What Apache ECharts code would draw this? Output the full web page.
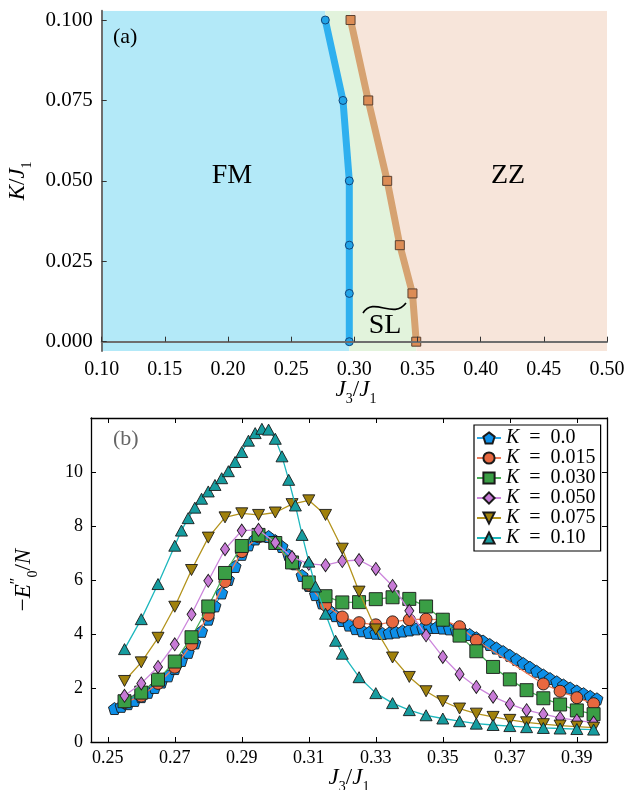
<!DOCTYPE html>
<html><head><meta charset="utf-8">
<script src="https://cdn.jsdelivr.net/npm/echarts@6/dist/echarts.min.js"></script>
<style>html,body{margin:0;padding:0;background:#fff}#c{width:634px;height:790px}</style>
</head><body><div id="c"></div>
<script>
// ---------- Panel (a): phase diagram ----------
const K_pts = [0.000, 0.015, 0.030, 0.050, 0.075, 0.100];
const FM_SL_J3 = [0.296, 0.296, 0.296, 0.296, 0.291, 0.277];
const SL_ZZ_J3 = [0.349, 0.346, 0.336, 0.326, 0.311, 0.297];
const topXTicks = [0.10, 0.15, 0.20, 0.25, 0.30, 0.35, 0.40, 0.45, 0.50];
const topYTicks = [0.000, 0.025, 0.050, 0.075, 0.100];

// ---------- Panel (b): -E0''/N curves ----------
const botXTicks = [0.25, 0.27, 0.29, 0.31, 0.33, 0.35, 0.37, 0.39];
const botYTicks = [0, 2, 4, 6, 8, 10];
const seriesNames = ['K = 0.0', 'K = 0.015', 'K = 0.030', 'K = 0.050', 'K = 0.075', 'K = 0.10'];

const J3_K000 = [0.252,0.254,0.256,0.258,0.260,0.262,0.264,0.266,0.268,0.270,0.272,0.274,0.276,0.278,0.280,0.282,0.284,0.286,0.288,0.290,0.292,0.294,0.296,0.298,0.300,0.302,0.304,0.306,0.308,0.310,0.312,0.314,0.316,0.318,0.320,0.322,0.324,0.326,0.328,0.330,0.332,0.334,0.336,0.338,0.340,0.342,0.344,0.346,0.348,0.350,0.352,0.354,0.356,0.358,0.360,0.362,0.364,0.366,0.368,0.370,0.372,0.374,0.376,0.378,0.380,0.382,0.384,0.386,0.388,0.390,0.392,0.394,0.396];
const E_K000 = [1.24,1.32,1.42,1.54,1.68,1.84,2.02,2.22,2.45,2.72,3.02,3.32,3.67,4.10,4.55,5.04,5.52,6.02,6.50,6.95,7.30,7.52,7.63,7.61,7.46,7.24,6.93,6.60,6.17,5.80,5.46,5.15,4.89,4.68,4.50,4.33,4.20,4.12,4.06,4.03,4.02,4.04,4.07,4.11,4.15,4.19,4.22,4.24,4.24,4.22,4.19,4.14,4.07,3.98,3.86,3.74,3.61,3.48,3.35,3.21,3.06,2.91,2.77,2.62,2.48,2.35,2.23,2.11,2.00,1.89,1.79,1.69,1.60];

const J3_K015 = [0.255,0.260,0.265,0.270,0.275,0.280,0.285,0.290,0.295,0.300,0.305,0.310,0.315,0.320,0.325,0.330,0.335,0.340,0.345,0.350,0.355,0.360,0.380,0.385,0.390,0.395];
const E_K015 = [1.46,1.70,2.17,2.77,3.61,4.70,5.94,7.05,7.60,7.35,6.62,5.81,5.07,4.63,4.42,4.34,4.45,4.53,4.55,4.52,4.27,3.77,2.15,1.88,1.64,1.42];

const J3_K030 = [0.255,0.260,0.265,0.270,0.275,0.280,0.285,0.290,0.295,0.300,0.305,0.310,0.315,0.320,0.325,0.330,0.335,0.340,0.345,0.350,0.355,0.360,0.365,0.370,0.375,0.380,0.385,0.390,0.395];
const E_K030 = [1.51,1.83,2.31,2.98,3.88,5.02,6.26,7.26,7.67,7.37,6.65,5.91,5.40,5.17,5.18,5.29,5.36,5.30,5.02,4.53,3.94,3.36,2.78,2.32,1.92,1.62,1.39,1.17,1.03];

const J3_K050 = [0.255,0.260,0.265,0.270,0.275,0.280,0.285,0.290,0.295,0.300,0.305,0.310,0.315,0.320,0.325,0.330,0.335,0.340,0.345,0.350,0.355,0.360,0.365,0.370,0.375,0.380,0.385,0.390,0.395];
const E_K050 = [1.71,2.17,2.78,3.62,4.73,5.97,7.14,7.83,7.86,7.38,6.85,6.60,6.55,6.70,6.74,6.41,5.78,4.86,3.95,3.15,2.51,2.04,1.68,1.40,1.18,1.03,0.89,0.80,0.72];

const J3_K075 = [0.255,0.260,0.265,0.270,0.275,0.280,0.285,0.290,0.295,0.300,0.305,0.310,0.315,0.320,0.325,0.330,0.335,0.340,0.345,0.350,0.355,0.360,0.365,0.370,0.375,0.380,0.385,0.390,0.395];
const E_K075 = [2.26,2.95,3.86,5.01,6.37,7.57,8.32,8.47,8.41,8.50,8.81,8.95,8.41,7.16,5.57,4.17,3.13,2.41,1.88,1.51,1.24,1.05,0.93,0.82,0.73,0.66,0.61,0.57,0.53];

const J3_K100 = [0.255,0.260,0.265,0.270,0.272,0.274,0.276,0.278,0.280,0.282,0.284,0.286,0.288,0.290,0.292,0.294,0.296,0.298,0.300,0.302,0.304,0.306,0.308,0.310,0.312,0.315,0.318,0.320,0.325,0.330,0.335,0.340,0.345,0.350,0.355,0.360,0.365,0.370,0.375,0.380,0.385,0.390,0.395];
const E_K100 = [3.44,4.55,5.85,7.27,7.83,8.29,8.68,9.01,9.28,9.52,9.77,10.03,10.37,10.74,11.16,11.44,11.60,11.57,11.23,10.58,9.71,8.76,7.67,6.68,5.76,4.75,3.75,3.27,2.40,1.81,1.44,1.18,0.99,0.87,0.77,0.68,0.63,0.59,0.55,0.52,0.50,0.48,0.46];

const zipXY = (xs, ys) => xs.map((x, i) => [x, ys[i]]);

// ---------- styles ----------
const FONT = '"Liberation Serif", "DejaVu Serif", serif';
const REGION_COLORS = ['#b3e9f8', '#e2f3dc', '#f7e5da'];
const PENTAGON = 'path://M50,0 L97.55,34.55 L79.39,90.45 L20.61,90.45 L2.45,34.55 Z';
const TRI_DOWN = 'path://M0,0 L100,0 L50,86.6 Z';
const TRI_UP = 'path://M50,0 L100,86.6 L0,86.6 Z';
const lineColors = ['#2aa8e6', '#ee7a58', '#47ad55', '#cc86dc', '#b3931c', '#1db7bd'];
const fillColors = ['#0d8fe8', '#e8683f', '#3a9e45', '#c77ad6', '#a0810c', '#169c9f'];
const symbols = [PENTAGON, 'circle', 'rect', 'diamond', TRI_DOWN, TRI_UP];
const symSizes = [[12,12], 12, 13, [9,13], [12,11], [12,11]];
const dataSets = [zipXY(J3_K000,E_K000), zipXY(J3_K015,E_K015), zipXY(J3_K030,E_K030), zipXY(J3_K050,E_K050), zipXY(J3_K075,E_K075), zipXY(J3_K100,E_K100)];

function regionItem(params, api) {
  const cs = params.coordSys;
  const idx = params.dataIndex;
  const bottom = cs.y + cs.height, top = cs.y, left = cs.x, right = cs.x + cs.width;
  const b1 = K_pts.map((k, i) => api.coord([FM_SL_J3[i], k]));
  const b2 = K_pts.map((k, i) => api.coord([SL_ZZ_J3[i], k]));
  const ext = b => [[b[0][0], bottom]].concat(b, [[b[b.length - 1][0], top]]);
  const e1 = ext(b1), e2 = ext(b2);
  let pts;
  if (idx === 0) pts = [[left, bottom]].concat(e1, [[left, top]]);
  else if (idx === 1) pts = e1.concat(e2.slice().reverse());
  else pts = e2.concat([[right, top], [right, bottom]]);
  return { type: 'polygon', shape: { points: pts }, style: { fill: REGION_COLORS[idx] } };
}

const subRich = {
  i: { fontFamily: FONT, fontStyle: 'italic', fontSize: 23, color: '#000', lineHeight: 26, verticalAlign: 'bottom' },
  n: { fontFamily: FONT, fontSize: 23, color: '#000', lineHeight: 26, verticalAlign: 'bottom' },
  s: { fontFamily: FONT, fontSize: 14, color: '#000', lineHeight: 26, verticalAlign: 'bottom', padding: [0, 0, -5, 0] },
  p: { fontFamily: FONT, fontSize: 16, color: '#000', lineHeight: 26, verticalAlign: 'top' }
};
const J3_TITLE = '{i|J}{s|3}{n|/}{i|J}{s|1}';

const series = [
  { type: 'custom', xAxisIndex: 0, yAxisIndex: 0, renderItem: regionItem, silent: true, z: 1,
    data: [[0.2, 0.05], [0.32, 0.05], [0.4, 0.05]], clip: true },
  { type: 'line', xAxisIndex: 0, yAxisIndex: 0, z: 3, data: zipXY(FM_SL_J3, K_pts),
    lineStyle: { color: '#2fb0ef', width: 7 }, symbol: 'circle', symbolSize: 8,
    itemStyle: { color: '#22a4e8', borderColor: '#10457a', borderWidth: 1 } },
  { type: 'line', xAxisIndex: 0, yAxisIndex: 0, z: 3, data: zipXY(SL_ZZ_J3, K_pts),
    lineStyle: { color: '#d6a271', width: 7 }, symbol: 'rect', symbolSize: 9,
    itemStyle: { color: '#dc8c55', borderColor: '#5a4030', borderWidth: 1 } }
];
dataSets.forEach((d, i) => {
  series.push({
    name: seriesNames[i], type: 'line', xAxisIndex: 1, yAxisIndex: 1, z: 3 + i,
    data: d, symbol: symbols[i], symbolSize: symSizes[i],
    lineStyle: { color: lineColors[i], width: 1.3 },
    itemStyle: { color: fillColors[i], borderColor: '#1a1a1a', borderWidth: 0.9 }
  });
});

const option = {
  animation: false,
  backgroundColor: '#fff',
  grid: [
    { left: 101.7, right: 27, top: 10.7, bottom: 439, containLabel: false, outerBoundsMode: 'none' },
    { left: 91, right: 27, top: 418, bottom: 48, containLabel: false, outerBoundsMode: 'none' }
  ],
  xAxis: [
    { type: 'value', gridIndex: 0, min: 0.1, max: 0.5, interval: 0.05, z: 10,
      axisLine: { lineStyle: { color: '#6e6e6e', width: 2 } },
      axisTick: { inside: true, length: 5, lineStyle: { color: '#333', width: 1 }, customValues: topXTicks },
      axisLabel: { customValues: topXTicks, formatter: v => v.toFixed(2), fontFamily: FONT, fontSize: 20, color: '#000', margin: 9 },
      splitLine: { show: false } },
    { type: 'value', gridIndex: 1, min: 0.245, max: 0.399, z: 10,
      axisLine: { onZero: false, lineStyle: { color: '#000', width: 1.3 } },
      axisTick: { inside: true, length: 5, lineStyle: { color: '#000' }, customValues: botXTicks },
      axisLabel: { customValues: botXTicks, formatter: v => v.toFixed(2), fontFamily: FONT, fontSize: 18, color: '#000', margin: 7 },
      splitLine: { show: false } },
    { type: 'value', gridIndex: 1, min: 0.245, max: 0.399, position: 'top', z: 10,
      axisLine: { onZero: false, lineStyle: { color: '#000', width: 1.3 } },
      axisTick: { inside: true, length: 5, lineStyle: { color: '#000' }, customValues: botXTicks },
      axisLabel: { show: false }, splitLine: { show: false } }
  ],
  yAxis: [
    { type: 'value', gridIndex: 0, min: -0.0029, max: 0.1029, z: 10,
      axisLine: { onZero: false, lineStyle: { color: '#6e6e6e', width: 2 } },
      axisTick: { inside: true, length: 5, lineStyle: { color: '#333' }, customValues: topYTicks },
      axisLabel: { customValues: topYTicks, formatter: v => v.toFixed(3), fontFamily: FONT, fontSize: 21, color: '#000', margin: 9 },
      splitLine: { show: false },
      name: '{i|K}{n|/}{i|J}{s|1}', nameLocation: 'middle', nameGap: 70, nameRotate: 90,
      nameTextStyle: { rich: subRich } },
    { type: 'value', gridIndex: 1, min: 0, max: 12, z: 10,
      axisLine: { onZero: false, lineStyle: { color: '#000', width: 1.3 } },
      axisTick: { inside: true, length: 5, lineStyle: { color: '#000' }, customValues: botYTicks },
      axisLabel: { customValues: botYTicks, fontFamily: FONT, fontSize: 18, color: '#000', margin: 8 },
      splitLine: { show: false },
      name: '{n|−}{i|E}{p|″}{s|0}{n|/}{i|N}', nameLocation: 'middle', nameGap: 56, nameRotate: 90,
      nameTextStyle: { rich: subRich } },
    { type: 'value', gridIndex: 1, min: 0, max: 12, position: 'right', z: 10,
      axisLine: { onZero: false, lineStyle: { color: '#000', width: 1.3 } },
      axisTick: { inside: true, length: 5, lineStyle: { color: '#000' }, customValues: botYTicks },
      axisLabel: { show: false }, splitLine: { show: false } }
  ],
  legend: {
    data: seriesNames, orient: 'vertical', left: 474, top: 425,
    itemGap: 0, itemWidth: 24, itemHeight: 14,
    padding: [3, 5, 3, 2], borderColor: '#000', borderWidth: 1.2, backgroundColor: '#fff',
    formatter: n => '{i|K}{n|  =  ' + n.split('= ')[1] + '}',
    textStyle: { rich: {
      i: { fontFamily: FONT, fontStyle: 'italic', fontSize: 20, color: '#000', lineHeight: 21 },
      n: { fontFamily: FONT, fontSize: 20, color: '#000', lineHeight: 21 } } }
  },
  graphic: [
    { type: 'text', x: 356, y: 388, z: 100, style: { text: J3_TITLE, rich: subRich, align: 'center', verticalAlign: 'middle' } },
    { type: 'text', x: 349, y: 776, z: 100, style: { text: J3_TITLE, rich: subRich, align: 'center', verticalAlign: 'middle' } },
    { type: 'text', left: 113, top: 26, z: 100, style: { text: '(a)', font: '22px "Liberation Serif"', fill: '#000' } },
    { type: 'text', left: 113, top: 428, z: 100, style: { text: '(b)', font: '22px "Liberation Serif"', fill: '#666' } },
    { type: 'text', x: 232, y: 176, z: 100, style: { text: 'FM', font: '28px "Liberation Serif"', fill: '#000', align: 'center', verticalAlign: 'middle' } },
    { type: 'text', x: 508, y: 176, z: 100, style: { text: 'ZZ', font: '28px "Liberation Serif"', fill: '#000', align: 'center', verticalAlign: 'middle' } },
    { type: 'text', x: 385, y: 326, z: 100, style: { text: 'SL', font: '28px "Liberation Serif"', fill: '#000', align: 'center', verticalAlign: 'middle' } },
    { type: 'bezierCurve', z: 100, shape: { x1: 363, y1: 313, cpx1: 374, cpy1: 296, cpx2: 393, cpy2: 320, x2: 406, y2: 303 },
      style: { stroke: '#000', lineWidth: 1.6, fill: null } }
  ],
  series: series
};
const chart = echarts.init(document.getElementById('c'), null, { renderer: 'canvas' });
chart.setOption(option);
</script></body></html>
